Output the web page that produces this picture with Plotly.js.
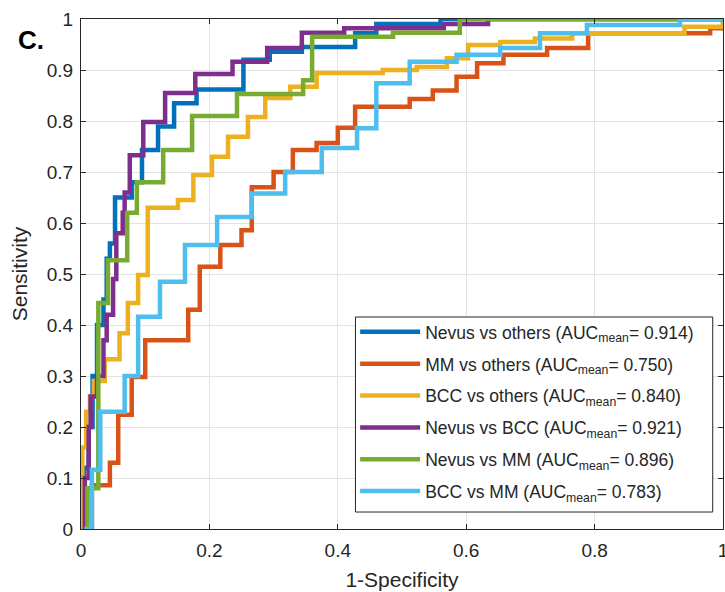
<!DOCTYPE html>
<html>
<head>
<meta charset="utf-8">
<script src="https://cdn.plot.ly/plotly-3.0.1.min.js"></script>
<style>html,body{margin:0;padding:0;background:#fff;}#chart{width:725px;height:592px;}</style>
</head>
<body>
<div id="chart"></div>
<script>
// ROC step curves: each point is (1-specificity where the curve rises, sensitivity after rise)
const seriesNames = [
  "Nevus vs others (AUC<sub>mean</sub>= 0.914)",
  "MM vs others (AUC<sub>mean</sub>= 0.750)",
  "BCC vs others (AUC<sub>mean</sub>= 0.840)",
  "Nevus vs BCC (AUC<sub>mean</sub>= 0.921)",
  "Nevus vs MM (AUC<sub>mean</sub>= 0.896)",
  "BCC vs MM (AUC<sub>mean</sub>= 0.783)"
];
const colors = ["#0072BD", "#D95319", "#EDB120", "#7E2F8E", "#77AC30", "#4DBEEE"];

const nevusOthersX = [0.005, 0.005, 0.012, 0.018, 0.025, 0.035, 0.04, 0.045, 0.053, 0.079, 0.095, 0.12, 0.145, 0.18, 0.253, 0.294, 0.344, 0.427, 0.46, 0.56, 1];
const nevusOthersY = [0, 0.12, 0.2, 0.3, 0.4, 0.45, 0.53, 0.56, 0.65, 0.68, 0.743, 0.789, 0.835, 0.862, 0.92, 0.936, 0.945, 0.972, 0.99, 1.0, 1.0];

const mmOthersX = [0.017, 0.017, 0.045, 0.058, 0.079, 0.1, 0.167, 0.185, 0.217, 0.25, 0.266, 0.3, 0.33, 0.367, 0.4, 0.427, 0.512, 0.548, 0.585, 0.617, 0.658, 0.726, 0.79, 0.98, 1];
const mmOthersY = [0, 0.086, 0.13, 0.224, 0.298, 0.37, 0.43, 0.514, 0.557, 0.586, 0.67, 0.70, 0.743, 0.757, 0.787, 0.828, 0.843, 0.86, 0.887, 0.913, 0.93, 0.943, 0.972, 0.982, 1.0];

const bccOthersX = [0.002, 0.002, 0.008, 0.014, 0.02, 0.037, 0.06, 0.073, 0.089, 0.104, 0.151, 0.175, 0.204, 0.229, 0.26, 0.287, 0.326, 0.367, 0.47, 0.523, 0.57, 0.603, 0.653, 0.707, 0.765, 0.94, 1];
const bccOthersY = [0, 0.16, 0.23, 0.26, 0.29, 0.333, 0.384, 0.443, 0.498, 0.63, 0.645, 0.694, 0.73, 0.769, 0.808, 0.845, 0.867, 0.894, 0.9, 0.906, 0.923, 0.949, 0.955, 0.962, 0.972, 0.985, 1.0];

const nevusBccX = [0.006, 0.006, 0.012, 0.015, 0.025, 0.035, 0.04, 0.05, 0.055, 0.065, 0.068, 0.076, 0.097, 0.131, 0.178, 0.236, 0.29, 0.344, 0.41, 0.565, 0.634, 1];
const nevusBccY = [0, 0.1, 0.2, 0.26, 0.3, 0.37, 0.42, 0.49, 0.58, 0.62, 0.66, 0.733, 0.798, 0.855, 0.892, 0.916, 0.943, 0.973, 0.982, 0.99, 1.0, 1.0];

const nevusMmX = [0.01, 0.01, 0.027, 0.042, 0.072, 0.087, 0.128, 0.173, 0.243, 0.346, 0.36, 0.486, 0.59, 1];
const nevusMmY = [0, 0.08, 0.443, 0.527, 0.62, 0.68, 0.743, 0.81, 0.853, 0.88, 0.965, 0.973, 1.0, 1.0];

const bccMmX = [0.005, 0.017, 0.03, 0.068, 0.089, 0.123, 0.162, 0.212, 0.266, 0.318, 0.375, 0.43, 0.46, 0.512, 0.585, 0.653, 0.715, 0.788, 0.933, 1];
const bccMmY = [0, 0.116, 0.23, 0.3, 0.416, 0.485, 0.557, 0.612, 0.658, 0.70, 0.747, 0.786, 0.874, 0.916, 0.93, 0.943, 0.972, 0.988, 1.0, 1.0];

const xs = [nevusOthersX, mmOthersX, bccOthersX, nevusBccX, nevusMmX, bccMmX];
const ys = [nevusOthersY, mmOthersY, bccOthersY, nevusBccY, nevusMmY, bccMmY];

const xTicks = [0, 0.2, 0.4, 0.6, 0.8, 1];
const xTickLabels = ["0", "0.2", "0.4", "0.6", "0.8", "1"];
const yTicks = [0, 0.1, 0.2, 0.3, 0.4, 0.5, 0.6, 0.7, 0.8, 0.9, 1];
const yTickLabels = ["0", "0.1", "0.2", "0.3", "0.4", "0.5", "0.6", "0.7", "0.8", "0.9", "1"];

const traces = seriesNames.map((name, i) => ({
  x: xs[i], y: ys[i], name: name, type: "scatter", mode: "lines",
  legendgroup: "g" + i,
  line: {color: colors[i], width: 4.5, shape: "hv"}
}));

const axisCommon = {
  showline: true, mirror: "ticks", linecolor: "#262626", linewidth: 1,
  ticks: "inside", ticklen: 5, tickcolor: "#262626",
  showgrid: true, gridcolor: "#e3e3e3", gridwidth: 1,
  zeroline: false, tickfont: {size: 19, color: "#262626"}, fixedrange: true,
  ticklabeloverflow: "allow"
};

const layout = {
  width: 725, height: 592,
  margin: {l: 81, r: 2, t: 19, b: 63},
  paper_bgcolor: "#fff", plot_bgcolor: "#fff",
  font: {family: "Liberation Sans, Arial, sans-serif", color: "#262626"},
  showlegend: true,
  xaxis: Object.assign({}, axisCommon, {
    range: [0, 1], tickvals: xTicks, ticktext: xTickLabels, ticklabelstandoff: 4,
    title: {text: "1-Specificity", font: {size: 21, color: "#262626"}, standoff: 12}
  }),
  yaxis: Object.assign({}, axisCommon, {
    range: [0, 1], tickvals: yTicks, ticktext: yTickLabels, ticklabelstandoff: 3,
    title: {text: "Sensitivity", font: {size: 21, color: "#262626"}, standoff: 13}
  }),
  legend: {
    x: 0.427, y: 0.4216, xanchor: "left", yanchor: "top",
    bgcolor: "rgba(0,0,0,0)", borderwidth: 0,
    font: {size: 17.5, color: "#262626"}, tracegroupgap: 6.1,
    itemwidth: 60, traceorder: "grouped"
  },
  shapes: [{
    type: "rect", xref: "paper", yref: "paper", layer: "above",
    x0: 0.4275, x1: 0.984, y0: 0.0333, y1: 0.4157,
    fillcolor: "#fff", line: {color: "#262626", width: 1}
  }],
  annotations: [{
    text: "<b>C.</b>", xref: "paper", yref: "paper", x: -0.102, y: 0.959,
    xanchor: "left", yanchor: "middle", showarrow: false,
    font: {size: 26, color: "#000"}
  }]
};

Plotly.newPlot("chart", traces, layout, {displayModeBar: false, staticPlot: true});
</script>
</body>
</html>
